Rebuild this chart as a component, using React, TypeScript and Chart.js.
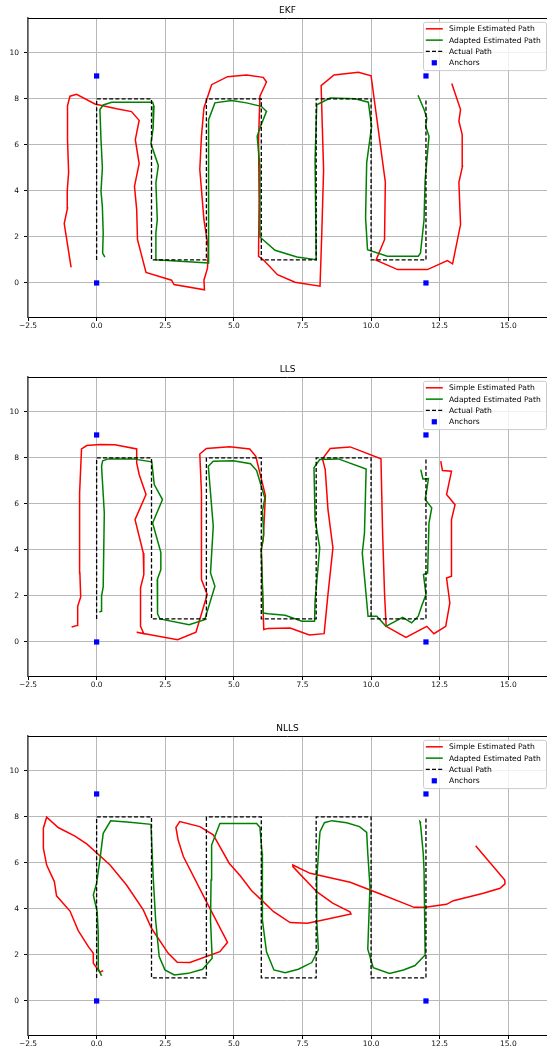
import React, { useEffect, useRef } from "react";
import { Chart, registerables } from "chart.js";

Chart.register(...registerables);

type Pt = [number, number];

const xTicks = [-2.5, 0, 2.5, 5, 7.5, 10, 12.5, 15];
const yTicks = [0, 2, 4, 6, 8, 10];
const legendLabels = ["Simple Estimated Path", "Adapted Estimated Path", "Actual Path", "Anchors"];
const titles = ["EKF", "LLS", "NLLS"];

const anchors: Pt[] = [[0, 0], [0, 9], [12, 9], [12, 0]];

const actualPath: Pt[] = [
  [0, 1], [0, 8], [2, 8], [2, 1], [4, 1], [4, 8], [6, 8], [6, 1],
  [8, 1], [8, 8], [10, 8], [10, 1], [12, 1], [12, 8],
];

const ekfSimple: Pt[] = [
  [-0.93, 0.68], [-1.18, 2.58], [-1.06, 3.26], [-1.07, 4.01], [-1.02, 4.81], [-1.06, 6.23],
  [-1.06, 7.71], [-0.97, 8.12], [-0.73, 8.2], [-0.06, 7.78], [0.73, 7.57], [1.27, 7.45],
  [1.55, 7.07], [1.41, 6.23], [1.55, 5.19], [1.38, 4.2], [1.46, 3.19], [1.49, 1.88],
  [1.8, 0.46], [2.73, 0.12], [2.82, -0.07], [3.93, -0.3], [3.91, 0.12], [4.04, 0.64],
  [4.07, 1.52], [3.91, 2.75], [3.76, 4.93], [3.82, 6.38], [3.91, 7.61], [4.19, 8.62],
  [4.77, 8.97], [5.46, 9.04], [6.07, 8.94], [6.19, 8.74], [5.95, 8.12], [5.9, 6.23],
  [5.92, 3.62], [5.9, 1.16], [6.07, 1.01], [6.59, 0.36], [7.23, 0.03], [8.14, -0.14],
  [8.2, 2.0], [8.27, 4.9], [8.18, 8.58], [8.65, 9.04], [9.54, 9.16], [10.0, 9.01],
  [10.52, 4.38], [10.49, 1.88], [10.18, 0.99], [10.97, 0.58], [12.05, 0.58], [12.78, 0.97],
  [12.97, 0.83], [13.26, 2.54], [13.2, 4.38], [13.33, 5.07], [13.32, 6.45], [13.2, 7.03],
  [13.26, 7.54], [12.94, 8.67],
];

const ekfAdapted: Pt[] = [
  [0.3, 1.12], [0.22, 1.3], [0.24, 2.17], [0.21, 3.3], [0.16, 3.99], [0.21, 5.0],
  [0.16, 6.23], [0.12, 7.54], [0.24, 7.74], [0.55, 7.86], [2.04, 7.86], [2.09, 7.68],
  [2.06, 6.74], [1.98, 6.06], [2.25, 5.1], [2.16, 4.35], [2.21, 2.75], [2.16, 2.17],
  [2.16, 1.01], [4.07, 0.87], [4.09, 1.52], [4.07, 7.1], [4.31, 7.83], [4.92, 7.93],
  [5.46, 7.83], [6.0, 7.68], [6.19, 7.46], [5.95, 6.74], [5.85, 6.38], [5.95, 5.07],
  [5.95, 2.0], [6.5, 1.42], [7.3, 1.13], [8.0, 1.01], [7.96, 5.36], [8.02, 7.75],
  [8.51, 8.04], [9.42, 8.01], [9.9, 7.86], [10.02, 6.81], [9.84, 5.22], [9.8, 2.83],
  [9.87, 1.45], [10.59, 1.16], [11.72, 1.16], [11.8, 1.3], [11.93, 2.75], [11.97, 4.49],
  [12.11, 6.38], [11.99, 6.81], [12.03, 7.17], [11.93, 7.54], [11.71, 8.16],
];

const llsSimple: Pt[] = [
  [-0.91, 0.65], [-0.7, 0.72], [-0.69, 1.55], [-0.58, 1.96], [-0.61, 3.0], [-0.63, 4.16],
  [-0.61, 6.48], [-0.55, 8.39], [-0.36, 8.54], [0.12, 8.58], [0.67, 8.57], [1.46, 8.39],
  [1.46, 7.78], [1.55, 7.28], [1.8, 6.41], [1.4, 5.32], [1.7, 3.87], [1.72, 2.93],
  [1.6, 2.35], [1.6, 0.68], [1.72, 0.36], [1.46, 0.42], [2.95, 0.1], [3.62, 0.42],
  [4.03, 2.06], [3.82, 2.71], [3.82, 6.48], [3.76, 8.17], [4.0, 8.41], [4.85, 8.49],
  [5.58, 8.39], [5.8, 8.07], [6.15, 6.36], [6.07, 4.45], [6.0, 4.01], [6.09, 0.54],
  [6.25, 0.59], [7.05, 0.61], [7.75, 0.3], [8.29, 0.36], [8.42, 1.96], [8.61, 4.09],
  [8.43, 5.75], [8.33, 7.49], [8.23, 7.96], [8.51, 8.41], [9.24, 8.48], [10.36, 7.96],
  [10.42, 4.74], [10.49, 2.13], [10.55, 0.68], [11.27, 0.2], [12.03, 0.68], [12.29, 0.36],
  [12.72, 0.68], [12.87, 1.7], [12.75, 2.78], [12.93, 2.86], [12.93, 5.32], [13.06, 5.97],
  [12.75, 6.41], [12.93, 7.42], [12.6, 7.45], [12.54, 7.86],
];

const llsAdapted: Pt[] = [
  [0.1, 1.3], [0.16, 1.33], [0.18, 1.99], [0.24, 2.39], [0.28, 5.61], [0.18, 7.64],
  [0.22, 7.88], [0.42, 7.96], [1.33, 7.96], [2.01, 7.83], [2.1, 6.84], [2.4, 6.19],
  [2.04, 5.17], [2.34, 3.9], [2.34, 3.14], [2.21, 2.71], [2.22, 1.22], [2.31, 1.0],
  [3.37, 0.75], [3.94, 0.97], [4.31, 2.42], [4.15, 3.0], [4.25, 5.03], [4.07, 7.64],
  [4.25, 7.86], [4.98, 7.88], [5.61, 7.75], [5.83, 7.45], [6.13, 6.26], [6.04, 5.68],
  [6.09, 4.67], [6.0, 4.01], [6.07, 1.26], [6.25, 1.23], [6.87, 1.16], [7.48, 0.9],
  [7.94, 0.9], [7.96, 1.8], [8.13, 4.09], [7.96, 5.32], [7.92, 7.57], [8.13, 7.93],
  [8.81, 7.96], [9.82, 7.52], [9.76, 4.74], [9.68, 3.87], [9.89, 1.12], [10.21, 1.12],
  [10.54, 0.68], [11.15, 1.07], [11.48, 0.83], [11.72, 1.12], [11.84, 1.55], [12.0, 2.06],
  [11.91, 2.93], [12.06, 3.0], [12.11, 5.17], [12.21, 5.83], [11.97, 6.19], [12.03, 6.62],
  [12.09, 7.1], [11.89, 7.09], [11.81, 7.49],
];

const nllsSimple: Pt[] = [
  [0.24, 1.32], [0.12, 1.25], [-0.12, 1.64], [-0.12, 2.07], [-0.3, 2.36], [-0.67, 3.06],
  [-0.97, 3.91], [-1.46, 4.57], [-1.54, 5.19], [-1.82, 5.91], [-1.94, 6.64], [-1.94, 7.51],
  [-1.82, 7.99], [-1.4, 7.54], [-0.79, 7.17], [-0.36, 6.83], [0.49, 5.91], [1.09, 5.04],
  [1.7, 3.96], [2.0, 3.16], [2.61, 2.07], [2.94, 1.68], [3.4, 1.67], [4.49, 2.14],
  [4.77, 2.55], [4.0, 4.32], [3.16, 6.28], [2.97, 7.0], [2.89, 7.55], [3.03, 7.8],
  [3.76, 7.58], [4.25, 7.22], [4.49, 6.71], [4.83, 5.99], [5.24, 5.43], [5.64, 4.8],
  [6.07, 4.32], [6.45, 3.88], [7.05, 3.41], [7.68, 3.38], [8.08, 3.48], [9.27, 3.78],
  [9.23, 3.88], [8.6, 4.25], [8.02, 4.75], [7.15, 5.84], [7.15, 5.91], [7.78, 5.55],
  [9.24, 5.16], [10.27, 4.68], [11.57, 4.07], [11.97, 4.07], [12.75, 4.2], [13.0, 4.36],
  [14.09, 4.68], [14.7, 4.9], [14.88, 5.09], [14.87, 5.26], [13.81, 6.75],
];

const nllsAdapted: Pt[] = [
  [0.18, 1.09], [0.06, 1.4], [0.06, 2.94], [0.02, 3.88], [-0.12, 4.61], [0.0, 5.12],
  [0.12, 6.13], [0.24, 7.29], [0.51, 7.83], [1.21, 7.77], [1.98, 7.68], [2.06, 5.41],
  [2.15, 3.52], [2.28, 1.93], [2.49, 1.35], [2.83, 1.13], [3.34, 1.2], [3.86, 1.38],
  [4.21, 1.86], [4.15, 3.52], [4.17, 5.26], [4.19, 6.78], [4.49, 7.72], [5.22, 7.72],
  [5.83, 7.72], [5.95, 7.55], [6.03, 6.42], [6.04, 3.52], [6.19, 2.14], [6.46, 1.35],
  [6.87, 1.23], [7.35, 1.38], [7.84, 1.67], [8.08, 2.22], [8.02, 3.52], [8.02, 5.26],
  [8.11, 6.93], [8.14, 7.36], [8.3, 7.75], [8.57, 7.84], [9.11, 7.75], [9.58, 7.58],
  [9.84, 7.33], [9.88, 6.42], [9.96, 4.97], [9.88, 2.25], [10.08, 1.45], [10.67, 1.2],
  [11.18, 1.35], [11.6, 1.54], [11.97, 2.0], [11.93, 5.7], [11.9, 6.42], [11.81, 7.58],
  [11.78, 7.8], [11.82, 7.75],
];

const simpleSeries = [ekfSimple, llsSimple, nllsSimple];
const adaptedSeries = [ekfAdapted, llsAdapted, nllsAdapted];

const FONT = "'DejaVu Sans', sans-serif";
const RED = "#ff0000";
const GREEN = "#008000";
const BLUE = "#0000ff";
const CANVAS_W = 551;
const VIEW_W = 547;

const toXY = (pts: Pt[]) => pts.map(([x, y]) => ({ x, y }));

const fmtX = (v: number) => (v < 0 ? "\u2212" + Math.abs(v).toFixed(1) : v.toFixed(1));

const decorPlugin = (title: string) => ({
  id: "decor_" + title,
  afterDraw(chart: any) {
    const { ctx, chartArea } = chart;
    const { left, top } = chartArea;
    const right = chartArea.right;
    ctx.save();
    // top spine
    ctx.strokeStyle = "#000";
    ctx.lineWidth = 1;
    ctx.beginPath();
    ctx.moveTo(left, Math.round(top) + 0.5);
    ctx.lineTo(right, Math.round(top) + 0.5);
    ctx.stroke();
    // title
    ctx.fillStyle = "#000";
    ctx.font = `9px ${FONT}`;
    ctx.textAlign = "center";
    ctx.textBaseline = "middle";
    ctx.fillText(title, (left + VIEW_W) / 2, top - 7.3);

    // legend
    const bx = 423.5;
    const by = top + 4.3;
    const bw = 123;
    const bh = 48.3;
    const r = 2;
    ctx.beginPath();
    ctx.moveTo(bx + r, by);
    ctx.lineTo(bx + bw - r, by);
    ctx.arcTo(bx + bw, by, bx + bw, by + r, r);
    ctx.lineTo(bx + bw, by + bh - r);
    ctx.arcTo(bx + bw, by + bh, bx + bw - r, by + bh, r);
    ctx.lineTo(bx + r, by + bh);
    ctx.arcTo(bx, by + bh, bx, by + bh - r, r);
    ctx.lineTo(bx, by + r);
    ctx.arcTo(bx, by, bx + r, by, r);
    ctx.closePath();
    ctx.fillStyle = "rgba(255,255,255,0.8)";
    ctx.fill();
    ctx.strokeStyle = "#cccccc";
    ctx.lineWidth = 1;
    ctx.stroke();

    const x0 = bx + 2.3;
    const x1 = bx + 19.3;
    const tx = bx + 25.5;
    ctx.font = `7.6px ${FONT}`;
    ctx.textAlign = "left";
    ctx.textBaseline = "middle";
    legendLabels.forEach((label, i) => {
      const y = by + 6.5 + i * 11.33;
      ctx.setLineDash([]);
      if (i === 0 || i === 1) {
        ctx.strokeStyle = i === 0 ? RED : GREEN;
        ctx.lineWidth = 1.5;
        ctx.beginPath();
        ctx.moveTo(x0, y);
        ctx.lineTo(x1, y);
        ctx.stroke();
      } else if (i === 2) {
        ctx.strokeStyle = "#000";
        ctx.lineWidth = 1.3;
        ctx.setLineDash([4, 2.2]);
        ctx.beginPath();
        ctx.moveTo(x0, y);
        ctx.lineTo(x1, y);
        ctx.stroke();
        ctx.setLineDash([]);
      } else {
        ctx.fillStyle = BLUE;
        ctx.fillRect((x0 + x1) / 2 - 2.6, y - 2.6, 5.2, 5.2);
      }
      ctx.fillStyle = "#000";
      ctx.fillText(label, tx, y + 0.5);
    });
    ctx.restore();
  },
});

function Panel({ idx, top, height, xAxisH }: { idx: number; top: number; height: number; xAxisH: number }) {
  const ref = useRef<HTMLCanvasElement | null>(null);
  useEffect(() => {
    if (!ref.current) return;
    const chart = new Chart(ref.current, {
      type: "scatter",
      data: {
        datasets: [
          {
            label: legendLabels[0],
            data: toXY(simpleSeries[idx]),
            showLine: true,
            borderColor: RED,
            backgroundColor: RED,
            borderWidth: 1.5,
            pointRadius: 0,
            tension: 0,
            order: 4,
          },
          {
            label: legendLabels[1],
            data: toXY(adaptedSeries[idx]),
            showLine: true,
            borderColor: GREEN,
            backgroundColor: GREEN,
            borderWidth: 1.5,
            pointRadius: 0,
            tension: 0,
            order: 3,
          },
          {
            label: legendLabels[2],
            data: toXY(actualPath),
            showLine: true,
            borderColor: "#000",
            backgroundColor: "#000",
            borderWidth: 1.3,
            borderDash: [4, 2.2],
            pointRadius: 0,
            tension: 0,
            order: 2,
          },
          {
            label: legendLabels[3],
            data: toXY(anchors),
            showLine: false,
            pointStyle: "rect",
            pointRadius: 3.7,
            pointBackgroundColor: BLUE,
            pointBorderColor: BLUE,
            pointBorderWidth: 0,
            order: 1,
          },
        ],
      } as any,
      options: {
        responsive: false,
        animation: false,
        devicePixelRatio: 1,
        layout: { padding: { top: 18, left: 0, right: 0, bottom: 0 } },
        plugins: {
          legend: { display: false },
          title: { display: false },
          tooltip: { enabled: false },
        },
        scales: {
          x: {
            type: "linear",
            min: -2.5,
            max: 16.41,
            afterBuildTicks: (s: any) => {
              s.ticks = xTicks.map((v) => ({ value: v }));
            },
            afterFit: (s: any) => {
              s.height = xAxisH;
            },
            ticks: {
              callback: (v: any) => fmtX(Number(v)),
              font: { family: FONT, size: 7.5 },
              color: "#111",
              padding: 1,
              maxRotation: 0,
              autoSkip: false,
            },
            grid: {
              color: "#b8b8b8",
              lineWidth: 1,
              tickLength: 4,
              tickColor: "#000",
              drawTicks: true,
            },
            border: { color: "#000", width: 1 },
          },
          y: {
            type: "linear",
            min: -1.48,
            max: 11.52,
            afterBuildTicks: (s: any) => {
              s.ticks = yTicks.map((v) => ({ value: v }));
            },
            afterFit: (s: any) => {
              s.width = 28;
            },
            ticks: {
              callback: (v: any) => String(v),
              font: { family: FONT, size: 7.5 },
              color: "#111",
              padding: 5,
              autoSkip: false,
            },
            grid: {
              color: "#b8b8b8",
              lineWidth: 1,
              tickLength: 4,
              tickColor: "#000",
              drawTicks: true,
            },
            border: { color: "#555", width: 1.5 },
          },
        },
      } as any,
      plugins: [decorPlugin(titles[idx])],
    });
    return () => chart.destroy();
  }, [idx, xAxisH]);
  return (
    <canvas
      ref={ref}
      width={CANVAS_W}
      height={height}
      style={{ position: "absolute", left: 0, top, width: CANVAS_W, height, display: "block" }}
    />
  );
}

export default function App() {
  return (
    <div
      style={{
        position: "absolute",
        left: 0,
        top: 0,
        width: VIEW_W,
        height: 1048,
        overflow: "hidden",
        background: "#fff",
      }}
    >
      <Panel idx={0} top={0} height={331} xAxisH={14} />
      <Panel idx={1} top={359} height={331} xAxisH={14} />
      <Panel idx={2} top={718} height={330} xAxisH={13} />
    </div>
  );
}
